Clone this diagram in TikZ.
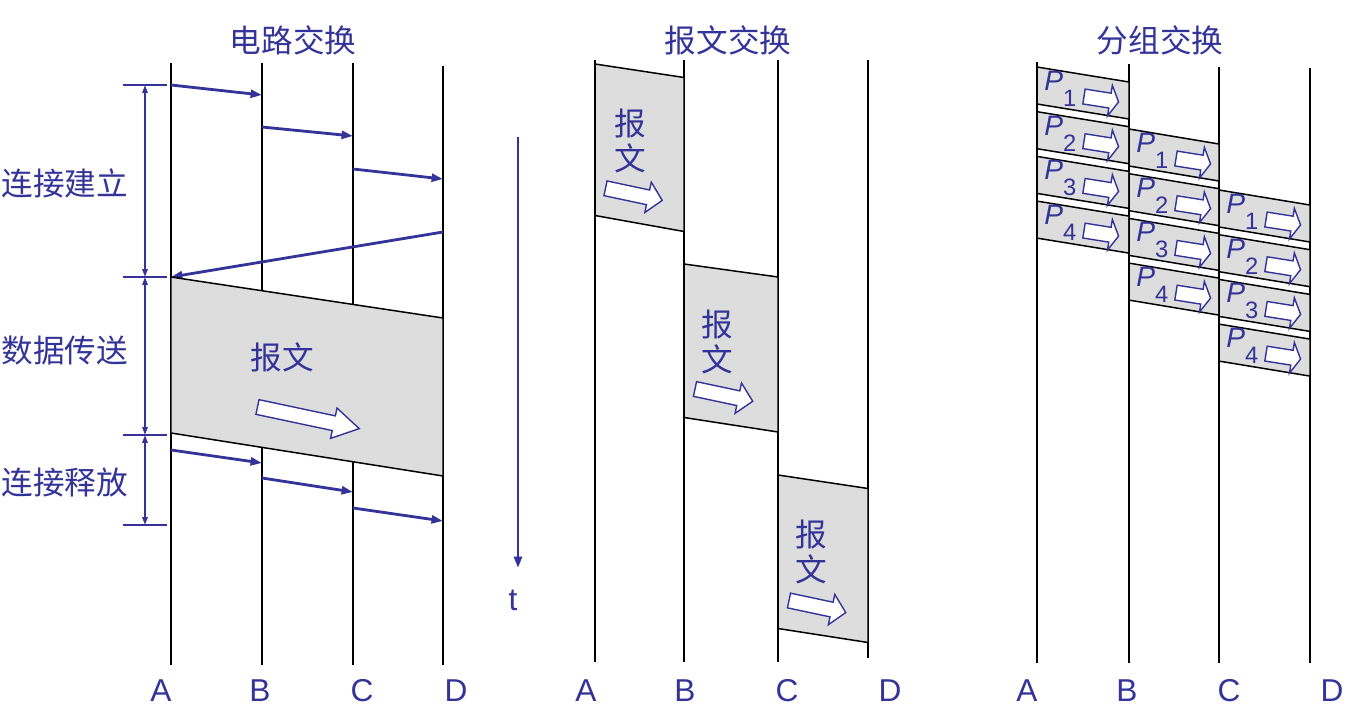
\documentclass[tikz,border=0pt]{standalone}
\usepackage{fontspec}
\setmainfont{Liberation Sans}
\newfontfamily\cjk{Noto Sans CJK SC}
\usepackage{tikz}
\usetikzlibrary{arrows.meta, calc}
\definecolor{inkblue}{RGB}{51,51,153}
\definecolor{boxgray}{RGB}{221,221,221}

\tikzset{
    pics/msgarrow/.style={
        code={
            \filldraw[fill=white, draw=inkblue, line width=0.8pt]
                (0,-7.5) -- ({0.75*#1},-7.5) -- ({0.75*#1},-15.5) -- (#1,0)
                -- ({0.75*#1},15.5) -- ({0.75*#1},7.5) -- (0,7.5) -- cycle;
        }
    }
}

\begin{document}
\begin{tikzpicture}[
    x=0.02cm, y=-0.02cm,
    every node/.style={inner sep=0pt},
    lane/.style={draw=black, line width=1.1pt},
    databox/.style={fill=boxgray, draw=black, line width=0.85pt},
    signal/.style={draw=inkblue, line width=1.6pt, -{Triangle[length=6.5pt, width=4.5pt]}},
    span/.style={draw=inkblue, line width=1.1pt, {Triangle[length=4.5pt, width=3pt]}-{Triangle[length=4.5pt, width=3pt]}},
    tick/.style={draw=inkblue, line width=1.2pt},
    cjklabel/.style={text=inkblue, font=\cjk\fontsize{18}{20}\selectfont},
    lanename/.style={text=inkblue, font=\fontsize{18}{20}\selectfont},
    pktlabel/.style={text=inkblue, font=\fontsize{16}{18}\selectfont, anchor=base west}
]
\useasboundingbox (0,0) rectangle (1370,720);

% lanes
\foreach \name/\x/\top/\bot in {cA/171/63/665, cB/262/63/665, cC/353/63/665, cD/443/66/665,
    mA/595/60/662, mB/684/60/662, mC/778/60/662, mD/868/60/658,
    pA/1037/62/663, pB/1129/64/663, pC/1219/67/663, pD/1310/68/663}{
    \coordinate (\name) at (\x,0);
    \draw[lane] (\x,\top) -- (\x,\bot);
}

% titles
\node[cjklabel] (title1) at (293,40) {电路交换};
\node[cjklabel] (title2) at (728,40) {报文交换};
\node[cjklabel] (title3) at (1160,40) {分组交换};

% lane names
\foreach \lbl/\x [count=\i] in {A/161, B/260, C/362, D/456, A/586, B/685, C/787, D/890, A/1027, B/1127, C/1229, D/1332}
    \node[lanename] (name\i) at (\x,691) {\lbl};

% circuit switching
\draw[signal] ($(cA)+(0,85)$) -- ($(cB)+(0,95)$);
\draw[signal] ($(cB)+(0,127)$) -- ($(cC)+(0,136)$);
\draw[signal] ($(cC)+(0,169)$) -- ($(cD)+(0,179)$);
\draw[signal] ($(cD)+(0,232)$) -- ($(cA)+(0,277)$);
\filldraw[databox] ($(cA)+(0,277)$) -- ($(cD)+(0,318)$) -- ($(cD)+(0,476)$) -- ($(cA)+(0,433)$) -- cycle;
\draw[signal] ($(cA)+(0,450)$) -- ($(cB)+(0,463)$);
\draw[signal] ($(cB)+(0,478)$) -- ($(cC)+(0,492)$);
\draw[signal] ($(cC)+(0,508)$) -- ($(cD)+(0,521)$);
\node[cjklabel] (cmsg) at (282,357) {报文};
\pic[rotate=-12] (carrow) at (257.5,407) {msgarrow=104};

% phases
\coordinate (ph0) at (145,85);
\coordinate (ph1) at (145,277);
\coordinate (ph2) at (145,435);
\coordinate (ph3) at (145,525);
\foreach \p in {ph0, ph1, ph2, ph3}
    \draw[tick] ($(\p)+(-22,0)$) -- ($(\p)+(22,0)$);
\draw[span] (ph0) -- (ph1);
\draw[span] (ph1) -- (ph2);
\draw[span] (ph2) -- (ph3);
\node[cjklabel] (setup) at (65,183) {连接建立};
\node[cjklabel] (transfer) at (65,351) {数据传送};
\node[cjklabel] (release) at (65,482) {连接释放};

% time axis
\coordinate (time0) at (518,137);
\coordinate (time1) at (518,568);
\draw[signal] (time0) -- (time1);
\node[lanename] (tlabel) at (513,600) {t};

% message switching
\filldraw[databox] ($(mA)+(0,64)$) -- ($(mB)+(0,77.5)$) -- ($(mB)+(0,231.5)$) -- ($(mA)+(0,215.5)$) -- cycle;
\filldraw[databox] ($(mB)+(0,264)$) -- ($(mC)+(0,277)$) -- ($(mC)+(0,432)$) -- ($(mB)+(0,417.5)$) -- cycle;
\filldraw[databox] ($(mC)+(0,475)$) -- ($(mD)+(0,488.5)$) -- ($(mD)+(0,642.5)$) -- ($(mC)+(0,628.5)$) -- cycle;
\node[cjklabel, align=center] (msg1) at (630,141) {报\\文};
\node[cjklabel, align=center] (msg2) at (717.5,342) {报\\文};
\node[cjklabel, align=center] (msg3) at (811.5,552) {报\\文};
\pic[rotate=-12] (marrow1) at (605.5,188.3) {msgarrow=58};
\pic[rotate=-12] (marrow2) at (695,389) {msgarrow=59};
\pic[rotate=-12] (marrow3) at (789,600.5) {msgarrow=58};

% packet switching
\foreach \from/\to/\start [count=\hop] in {pA/pB/67, pB/pC/129, pC/pD/190}
    \foreach \k in {1,...,4}{
        \pgfmathsetmacro\ytop{\start+(\k-1)*44.7}
        \filldraw[databox] ($(\from)+(0,\ytop)$) -- ($(\to)+(0,\ytop+15)$) -- ($(\to)+(0,\ytop+52)$) -- ($(\from)+(0,\ytop+37)$) -- cycle;
        \node[pktlabel] (pkt\hop\k) at ($(\from)+(7,\ytop+23.5)$) {\textit{P}\raisebox{-9pt}{\fontsize{13.5}{14}\selectfont\k}};
        \pic[rotate=-9] at ($(\from)+(47,\ytop+29.5)$) {msgarrow=35};
    }

\end{tikzpicture}
\end{document}
